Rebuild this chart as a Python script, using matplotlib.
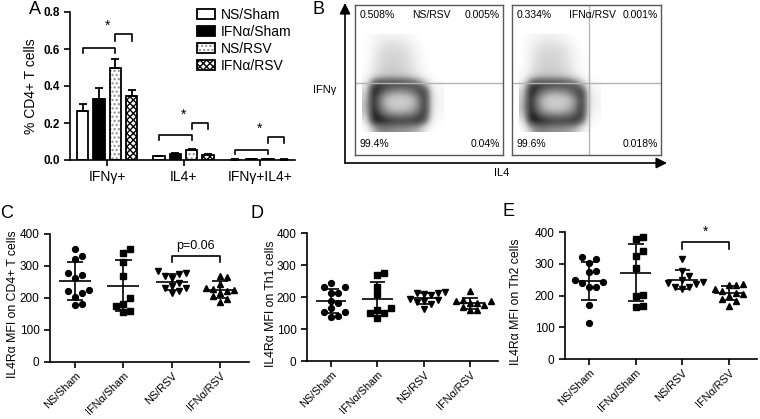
import numpy as np
import matplotlib
matplotlib.use("Agg")
import matplotlib.pyplot as plt
from matplotlib.patches import Patch, FancyArrowPatch
from matplotlib.legend_handler import HandlerTuple

plt.rcParams['font.family'] = ['Liberation Sans', 'DejaVu Sans']
plt.rcParams['hatch.linewidth'] = 1.0

# ---- panel A data: % CD4+ T cells ----
groups_a = ['IFN\u03b3+', 'IL4+', 'IFN\u03b3+IL4+']
treatments = ['NS/Sham', 'IFN\u03b1/Sham', 'NS/RSV', 'IFN\u03b1/RSV']
ns_sham_pct = [0.265, 0.020, 0.002]
ifn_sham_pct = [0.328, 0.032, 0.003]
ns_rsv_pct = [0.495, 0.055, 0.006]
ifn_rsv_pct = [0.344, 0.026, 0.002]
ns_sham_err = [0.039, 0.003, 0.001]
ifn_sham_err = [0.059, 0.004, 0.001]
ns_rsv_err = [0.049, 0.005, 0.001]
ifn_rsv_err = [0.034, 0.004, 0.001]
# bracket heights (low, high) per group
brackets_a = [(0.605, 0.68), (0.135, 0.20), (0.055, 0.125)]

# ---- panel B: flow quadrant percentages ----
flow_names = ['NS/RSV', 'IFN\u03b1/RSV']
flow_ul = ['0.508%', '0.334%']
flow_ur = ['0.005%', '0.001%']
flow_ll = ['99.4%', '99.6%']
flow_lr = ['0.04%', '0.018%']
# coarse event density (rows top->bottom, y 0.80..0.15, x 0.05..0.60)
blob_density = [
    [0.00, 0.05, 0.10, 0.12, 0.12, 0.10, 0.05, 0.00, 0.00, 0.00, 0.00],
    [0.00, 0.10, 0.18, 0.22, 0.22, 0.20, 0.15, 0.05, 0.00, 0.00, 0.00],
    [0.00, 0.12, 0.22, 0.26, 0.26, 0.25, 0.18, 0.08, 0.00, 0.00, 0.00],
    [0.00, 0.14, 0.25, 0.28, 0.28, 0.26, 0.20, 0.10, 0.03, 0.00, 0.00],
    [0.02, 0.16, 0.26, 0.30, 0.30, 0.28, 0.22, 0.12, 0.04, 0.00, 0.00],
    [0.04, 0.20, 0.30, 0.32, 0.32, 0.30, 0.26, 0.15, 0.06, 0.00, 0.00],
    [0.10, 0.75, 0.85, 0.85, 0.85, 0.85, 0.80, 0.70, 0.35, 0.08, 0.02],
    [0.25, 0.95, 0.80, 0.62, 0.55, 0.55, 0.60, 0.80, 0.85, 0.15, 0.06],
    [0.30, 0.95, 0.55, 0.35, 0.30, 0.30, 0.35, 0.50, 0.90, 0.18, 0.08],
    [0.35, 0.95, 0.55, 0.35, 0.30, 0.30, 0.35, 0.50, 0.90, 0.18, 0.08],
    [0.30, 0.95, 0.72, 0.52, 0.45, 0.45, 0.50, 0.65, 0.90, 0.15, 0.05],
    [0.15, 0.95, 0.95, 0.92, 0.88, 0.88, 0.88, 0.92, 0.75, 0.08, 0.02],
    [0.02, 0.35, 0.55, 0.55, 0.50, 0.50, 0.45, 0.40, 0.15, 0.00, 0.00],
]

# ---- panels C-E: IL4Ra MFI per mouse ----
cat_labels = ['NS/Sham', 'IFN\u03b1/Sham', 'NS/RSV', 'IFN\u03b1/RSV']
c_ns_sham = [352, 331, 321, 279, 272, 261, 225, 222, 215, 204, 178, 181]
c_ifn_sham = [353, 340, 312, 268, 200, 182, 176, 160, 155]
c_ns_rsv = [283, 278, 274, 268, 262, 248, 238, 232, 230, 222, 215]
c_ifn_rsv = [268, 266, 245, 232, 228, 225, 222, 215, 205, 198, 188]

d_ns_sham = [243, 230, 230, 211, 211, 188, 180, 165, 154, 154, 139, 140]
d_ifn_sham = [275, 268, 232, 208, 165, 160, 150, 150, 135]
d_ns_rsv = [215, 214, 212, 210, 205, 195, 192, 188, 183, 178, 163]
d_ifn_rsv = [218, 190, 188, 186, 182, 180, 176, 168, 160, 158]

e_ns_sham = [320, 315, 302, 278, 275, 248, 242, 238, 228, 226, 170, 114]
e_ifn_sham = [378, 384, 341, 323, 286, 202, 197, 167, 165]
e_ns_rsv = [316, 278, 262, 250, 242, 240, 236, 228, 226, 222]
e_ifn_rsv = [235, 233, 232, 222, 215, 208, 204, 200, 190, 182, 168]

markers = ['o', 's', 'v', '^']

W, H = 760, 419
fig = plt.figure(figsize=(W / 100, H / 100), dpi=100)


def px_axes(x0, y0, x1, y1):
    return fig.add_axes([x0 / W, 1 - y1 / H, (x1 - x0) / W, (y1 - y0) / H])


def fig_text(x, y, s, **kw):
    fig.text(x / W, 1 - y / H, s, **kw)


def style_axes(ax):
    for s in ['top', 'right']:
        ax.spines[s].set_visible(False)
    for s in ['left', 'bottom']:
        ax.spines[s].set_linewidth(1.2)
    ax.tick_params(direction='out', length=4, width=1.2)


# ================= Panel A =================
ax = px_axes(70, 12, 295, 160)
style_axes(ax)
x = np.arange(len(groups_a))
offs = (np.arange(4) - 1.5) * 0.214
bw = 0.15
means = [ns_sham_pct, ifn_sham_pct, ns_rsv_pct, ifn_rsv_pct]
errs = [ns_sham_err, ifn_sham_err, ns_rsv_err, ifn_rsv_err]
styles = [dict(color='white', hatch=None, hc='black'),
          dict(color='black', hatch=None, hc='black'),
          dict(color='white', hatch='....', hc='0.55'),
          dict(color='white', hatch='xxxxx', hc='black')]
handles = []
for i in range(4):
    st = styles[i]
    ax.bar(x + offs[i], means[i], bw, color=st['color'], hatch=st['hatch'],
           edgecolor=st['hc'], linewidth=0, zorder=2)
    ax.bar(x + offs[i], means[i], bw, fill=False, edgecolor='black',
           linewidth=1.3, zorder=3)
    ax.errorbar(x + offs[i], means[i], yerr=[np.zeros(3), errs[i]], fmt='none',
                ecolor='black', elinewidth=1.3, capsize=3, capthick=1.3, zorder=4)
    p1 = Patch(facecolor=st['color'], hatch=st['hatch'], edgecolor=st['hc'], linewidth=0)
    p2 = Patch(fill=False, edgecolor='black', linewidth=1.3)
    handles.append((p1, p2))

for g, (h1, h2) in enumerate(brackets_a):
    xa, xb, xc = g + offs[0], g + offs[2], g + offs[3]
    ax.plot([xa, xa, xb, xb], [h1 - 0.025, h1, h1, h1 - 0.025], color='black', lw=1.2)
    ax.plot([xb, xb, xc, xc], [h2 - 0.035, h2, h2, h2 - 0.035], color='black', lw=1.2)
    ax.text(g, h2 + 0.005, '*', ha='center', va='bottom', fontsize=10)

ax.set_xlim(-0.487, 2.46)
ax.set_ylim(0, 0.8)
ax.set_yticks([0, 0.2, 0.4, 0.6, 0.8])
ax.set_yticklabels(['0.0', '0.2', '0.4', '0.6', '0.8'], fontsize=8.5, fontweight='bold')
ax.set_xticks(x)
ax.set_xticklabels(groups_a, fontsize=10)
ax.set_ylabel('% CD4+ T cells', fontsize=10, labelpad=4)
ax.legend(handles, treatments, handler_map={tuple: HandlerTuple(ndivide=1)},
          loc='upper left', bbox_to_anchor=(197 / W, 1 - 8 / H),
          bbox_transform=fig.transFigure, frameon=False, fontsize=10,
          handlelength=1.3, handleheight=0.7, handletextpad=0.4,
          labelspacing=0.22, borderpad=0, borderaxespad=0)

# ================= Panel B =================
boxes = [(355, 5, 503, 155), (512, 5, 661, 155)]
for k, bx in enumerate(boxes):
    fb = px_axes(*bx)
    fb.imshow(np.array(blob_density), cmap='Greys', vmin=0, vmax=1,
              interpolation='bicubic', extent=(0.05, 0.60, 0.15, 0.80),
              aspect='auto', origin='upper', zorder=1)
    fb.set_xlim(0, 1)
    fb.set_ylim(0, 1)
    fb.set_xticks([])
    fb.set_yticks([])
    for s in fb.spines.values():
        s.set_color('0.35')
        s.set_linewidth(1.0)
    fb.axhline(0.48, color='0.7', lw=1.0, zorder=2)
    if k == 1:
        fb.axvline(0.52, color='0.7', lw=1.0, zorder=2)
    fs = 7.5
    fb.text(0.03, 0.965, flow_ul[k], ha='left', va='top', fontsize=fs, transform=fb.transAxes)
    fb.text(0.385, 0.965, flow_names[k], ha='left', va='top', fontsize=fs, transform=fb.transAxes)
    fb.text(0.98, 0.965, flow_ur[k], ha='right', va='top', fontsize=fs, transform=fb.transAxes)
    fb.text(0.03, 0.04, flow_ll[k], ha='left', va='bottom', fontsize=fs, transform=fb.transAxes)
    fb.text(0.98, 0.04, flow_lr[k], ha='right', va='bottom', fontsize=fs, transform=fb.transAxes)

for (xa, ya), (xb, yb) in [((345, 163), (345, 3)), ((345, 163), (667, 163))]:
    fig.add_artist(FancyArrowPatch((xa / W, 1 - ya / H), (xb / W, 1 - yb / H),
                                   transform=fig.transFigure, arrowstyle='-|>',
                                   mutation_scale=16, lw=1.2, color='black',
                                   shrinkA=0, shrinkB=0))
fig_text(313, 90, 'IFN\u03b3', ha='left', va='center', fontsize=8)
fig_text(502, 173, 'IL4', ha='center', va='center', fontsize=8)


# ================= Panels C-E =================
def swarm(ax, vals, d_px=7.0):
    sx = ax.bbox.width / np.diff(ax.get_xlim())[0]
    sy = ax.bbox.height / np.diff(ax.get_ylim())[0]
    vals = np.asarray(vals, float)
    res = np.zeros(len(vals))
    placed = []
    cands = [0.0]
    for n in range(1, 8):
        cands += [n * d_px, -n * d_px]
    for i in np.argsort(vals):
        y = vals[i] * sy
        for c in cands:
            if all((c - px) ** 2 + (y - py) ** 2 >= d_px ** 2 for px, py in placed):
                break
        placed.append((c, y))
        res[i] = c / sx
    return res


def dot_panel(rect, series, ylabel, label_x, bracket=None, btext=None):
    ax = px_axes(*rect)
    style_axes(ax)
    ax.set_xlim(-0.52, 3.6)
    ax.set_ylim(0, 400)
    for i, vals in enumerate(series):
        jit = swarm(ax, vals)
        ax.plot(i + jit, vals, linestyle='none', marker=markers[i], ms=4.2,
                color='black', zorder=3)
        m = np.mean(vals)
        sd = np.std(vals, ddof=1)
        ax.hlines(m, i - 0.33, i + 0.33, color='black', lw=1.2, zorder=4)
        ax.vlines(i, m - sd, m + sd, color='black', lw=1.2, zorder=4)
        ax.hlines([m - sd, m + sd], i - 0.17, i + 0.17, color='black', lw=1.2, zorder=4)
    if bracket is not None:
        hb, hd = bracket
        ax.plot([2, 2, 3, 3], [hd, hb, hb, hd], color='black', lw=1.2, clip_on=False)
        ax.text(2.5, hb + 12, btext, ha='center', va='bottom',
                fontsize=9 if btext != '*' else 10, clip_on=False)
    ax.set_yticks([0, 100, 200, 300, 400])
    ax.set_yticklabels(['0', '100', '200', '300', '400'], fontsize=8.5)
    ax.set_xticks(range(4))
    ax.set_xticklabels(cat_labels, rotation=45, ha='right', rotation_mode='anchor',
                       fontsize=7.8)
    ax.tick_params(axis='x', pad=2)
    ax.set_ylabel(ylabel, fontsize=8.8)
    # label_x: right edge of the rotated label, in figure pixels
    ax.yaxis.set_label_coords((label_x - rect[0]) / (rect[2] - rect[0]), 0.45)
    return ax


dot_panel((50, 234, 249, 362), [c_ns_sham, c_ifn_sham, c_ns_rsv, c_ifn_rsv],
          'IL4R\u03b1 MFI on CD4+ T cells', 19, bracket=(331, 311), btext='p=0.06')
dot_panel((307, 233, 498, 361), [d_ns_sham, d_ifn_sham, d_ns_rsv, d_ifn_rsv],
          'IL4R\u03b1 MFI on Th1 cells', 277)
dot_panel((565, 232, 757, 359), [e_ns_sham, e_ifn_sham, e_ns_rsv, e_ifn_rsv],
          'IL4R\u03b1 MFI on Th2 cells', 522, bracket=(367, 346), btext='*')

# panel letters
for lab, (px, py) in zip('ABCDE', [(35, 10), (318, 10), (7, 214), (257, 214), (509, 212)]):
    fig_text(px, py, lab, ha='center', va='center', fontsize=13)

fig.savefig('out.png', dpi=100)
